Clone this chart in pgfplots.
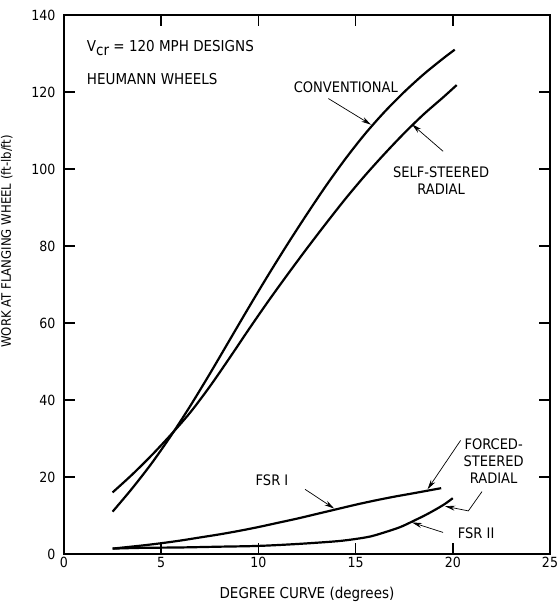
\documentclass[border=0pt]{standalone}
\usepackage{fontspec}
\setmainfont{DejaVu Sans Condensed}
\usepackage{pgfplots}
\pgfplotsset{compat=1.18}
\usetikzlibrary{arrows.meta}
\begin{document}
\begin{tikzpicture}
\begin{axis}[
  at={(0pt,0pt)}, anchor=south west,
  scale only axis, width=486pt, height=539pt,
  xmin=0, xmax=25, ymin=0, ymax=140,
  clip=false,
  xtick={0,5,...,25}, ytick={0,20,...,140},
  tick align=inside, tick pos=both,
  tickwidth=10pt,
  major tick style={draw=black, line width=1.2pt},
  axis line style={line width=1.2pt},
  /pgf/number format/assume math mode=true,
  ticklabel style={font=\fontsize{14}{14}\selectfont},
  yticklabel style={xshift=-5pt},
  xlabel={DEGREE CURVE (degrees)},
  ylabel={WORK AT FLANGING WHEEL (ft-lb/ft)},
  xlabel style={font=\fontsize{15}{15}\selectfont, yshift=-12pt},
  ylabel style={font=\fontsize{13}{13}\selectfont, at={(ticklabel cs:0.58)}, yshift=12pt},
  mycurve/.style={black, line width=2.2pt, no markers, smooth},
]
% Conventional
\addplot[mycurve] coordinates {(2.5,11) (3.5,17) (4.5,23.5) (5.5,30.7) (6.5,38.5) (7.5,46.8) (8.5,55.4) (9.5,64) (10.5,72.4) (11.5,80.5) (12.5,88.3) (13.5,95.8) (14.5,102.8) (15.5,109.2) (16.5,114.9) (17.5,120) (18.5,124.6) (19.5,128.7) (20.1,131)};
% Self-steered radial
\addplot[mycurve] coordinates {(2.5,16) (3.5,20.6) (4.5,25.6) (5.5,31) (6.5,36.8) (7.5,43.5) (8.5,50.8) (9.5,58.3) (10.5,65.6) (11.5,72.6) (12.5,79.4) (13.5,86) (14.5,92.4) (15.5,98.4) (16.5,104) (17.5,109.3) (18.5,114.2) (19.5,118.6) (20.2,121.8)};
% FSR I
\addplot[mycurve] coordinates {(2.5,1.4) (4,2.2) (5,2.8) (6,3.5) (7,4.3) (8,5.1) (9,6.0) (10,7.0) (11,8.1) (12,9.2) (13,10.4) (14,11.6) (15,12.8) (16,13.9) (17,14.9) (18,15.8) (19.4,17.1)};
% FSR II
\addplot[mycurve] coordinates {(2.5,1.4) (4,1.6) (6,1.7) (8,1.9) (10,2.1) (12,2.6) (14,3.3) (15,3.9) (15.8,4.6) (16.6,5.8) (17.3,7.0) (17.9,8.4) (18.7,10.4) (19.5,12.7) (20,14.5)};

% inward tick marks on all four sides
\pgfplotsinvokeforeach{5,10,15,20}{
  \draw[line width=1.5pt] (axis cs:#1,0) -- ++(0pt,11pt);
  \draw[line width=1.5pt] (axis cs:#1,140) -- ++(0pt,-11pt);
}
\pgfplotsinvokeforeach{20,40,60,80,100,120}{
  \draw[line width=1.5pt] (axis cs:0,#1) -- ++(11pt,0pt);
  \draw[line width=1.5pt] (axis cs:25,#1) -- ++(-11pt,0pt);
}

\node[font=\fontsize{15}{15}\selectfont, anchor=west] at (axis cs:1.0,131.4) {V\raisebox{-0.5ex}{cr} = 120 MPH DESIGNS};
\node[font=\fontsize{15}{15}\selectfont, anchor=west] at (axis cs:1.0,123.4) {HEUMANN WHEELS};

\node[font=\fontsize{14.5}{15}\selectfont] at (axis cs:14.5,121.3) {CONVENTIONAL};
\draw[-{Stealth[length=10pt,width=5pt]}, line width=0.7pt] (axis cs:13.6,118.3) -- (axis cs:15.8,111.5);

\node[font=\fontsize{14.5}{17}\selectfont, align=center] at (axis cs:19.4,96.9) {SELF-STEERED\\RADIAL};
\draw[-{Stealth[length=10pt,width=5pt]}, line width=0.7pt] (axis cs:19.5,104.6) -- (axis cs:17.9,111.6);

\node[font=\fontsize{14.5}{17}\selectfont, align=center] at (axis cs:22.1,24.2) {FORCED-\\STEERED\\RADIAL};
\draw[-{Stealth[length=10pt,width=5pt]}, line width=0.7pt] (axis cs:20.4,29.5) -- (axis cs:18.7,16.8);
\draw[-{Stealth[length=10pt,width=5pt]}, line width=0.7pt] (axis cs:21.5,16.2) -- (axis cs:20.8,11.2) -- (axis cs:19.6,12.4);

\node[font=\fontsize{14.5}{15}\selectfont] at (axis cs:10.7,19.2) {FSR I};
\draw[-{Stealth[length=10pt,width=5pt]}, line width=0.7pt] (axis cs:12.4,16.8) -- (axis cs:13.9,11.8);

\node[font=\fontsize{14.5}{15}\selectfont] at (axis cs:21.2,5.4) {FSR II};
\draw[-{Stealth[length=10pt,width=5pt]}, line width=0.7pt] (axis cs:19.5,5.6) -- (axis cs:17.9,8.2);
\end{axis}
\pgfresetboundingbox
\path[use as bounding box] (-64pt,-50pt) rectangle (495pt,554pt);
\end{tikzpicture}
\end{document}
